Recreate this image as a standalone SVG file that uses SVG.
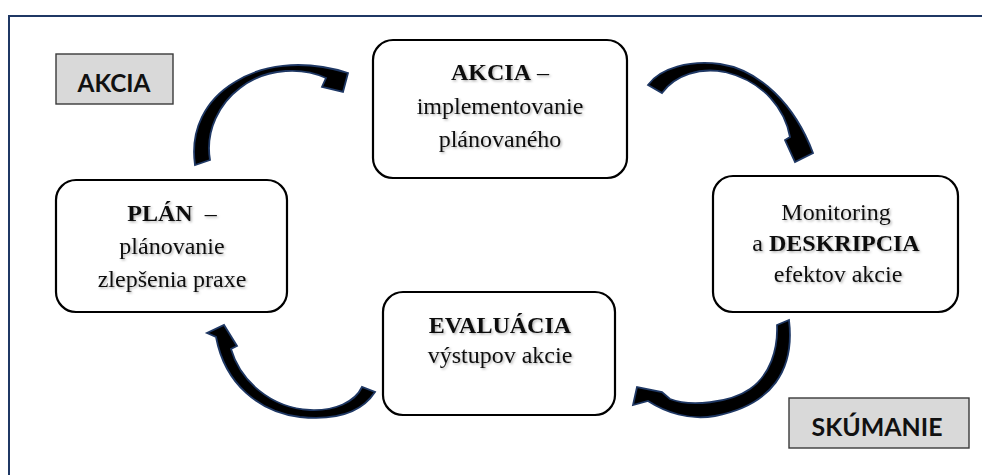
<svg xmlns="http://www.w3.org/2000/svg" width="982" height="475" viewBox="0 0 982 475">
  <defs>
    <filter id="txtShadow" x="-10%" y="-30%" width="120%" height="160%">
      <feDropShadow dx="1.4" dy="1.4" stdDeviation="0.9" flood-color="#000" flood-opacity="0.3"/>
    </filter>
  </defs>
  <style>
    .frame { fill: none; stroke: #1f3864; stroke-width: 2; }
    .node { fill: #fff; stroke: #000; stroke-width: 2.2; }
    .tag { fill: #d9d9d9; stroke: #3a3a3a; stroke-width: 1.4; }
    .tagtxt { font-family: Lato, "Open Sans", "Liberation Sans", sans-serif; font-weight: bold; font-size: 25px; fill: #111; text-anchor: middle; }
    .ntxt { font-family: "Liberation Serif", "Times New Roman", serif; font-size: 24px; fill: #111; text-anchor: middle; filter: url(#txtShadow); white-space: pre; }
    .b { font-weight: bold; }
    .arrow { fill: #000; stroke: #1f3864; stroke-width: 1.8; stroke-linejoin: miter; }
  </style>

  <rect width="982" height="475" fill="#fff"/>
  <!-- outer frame: only the left and top sides are in view -->
  <rect class="frame" x="9" y="16" width="1000" height="500"/>

  <!-- phase tags -->
  <g id="tag-akcia">
    <rect class="tag" x="56" y="54" width="117" height="50"/>
    <text class="tagtxt" x="114" y="92" textLength="73" lengthAdjust="spacingAndGlyphs">AKCIA</text>
  </g>
  <g id="tag-skumanie">
    <rect class="tag" x="789" y="398" width="180" height="50"/>
    <text class="tagtxt" x="877" y="436" textLength="131" lengthAdjust="spacingAndGlyphs">SKÚMANIE</text>
  </g>

  <!-- cycle steps -->
  <g id="node-akcia">
    <rect class="node" x="373" y="40" width="254" height="138" rx="20"/>
    <text class="ntxt" x="500" y="80"><tspan class="b">AKCIA</tspan> –</text>
    <text class="ntxt" x="500" y="114">implementovanie</text>
    <text class="ntxt" x="500" y="147">plánovaného</text>
  </g>
  <g id="node-monitoring">
    <rect class="node" x="713" y="176" width="245" height="136" rx="20"/>
    <text class="ntxt" x="836" y="220">Monitoring</text>
    <text class="ntxt" x="836" y="251">a <tspan class="b">DESKRIPCIA</tspan></text>
    <text class="ntxt" x="838" y="282">efektov akcie</text>
  </g>
  <g id="node-evaluacia">
    <rect class="node" x="383" y="292" width="232" height="123" rx="20"/>
    <text class="ntxt" x="500" y="333"><tspan class="b">EVALUÁCIA</tspan></text>
    <text class="ntxt" x="500" y="363">výstupov akcie</text>
  </g>
  <g id="node-plan">
    <rect class="node" x="56" y="180" width="231" height="132" rx="20"/>
    <text class="ntxt" x="172" y="221"><tspan class="b">PLÁN</tspan>  –</text>
    <text class="ntxt" x="172" y="254">plánovanie</text>
    <text class="ntxt" x="172" y="287">zlepšenia praxe</text>
  </g>

  <!-- curved block arrows between the steps -->
  <g id="connectors">
    <path class="arrow" d="M195,165 C190,130 205,100 235,82 C260,66 300,58 348,73 L343,92 L322,87 L326,78 C305,68 268,66 240,88 C220,103 205,130 210,160 Z"/>
    <path class="arrow" d="M648,85 C660,68 690,60 720,64 C760,70 795,105 813,153 L795,162 L785,140 L790,137 C785,110 765,82 725,72 C700,67 675,75 662,93 Z"/>
    <path class="arrow" d="M789,320 C795,370 772,405 715,416 C690,421 665,412 648,401 L633,405 L637,387 L662,392 L670,399 C690,407 730,403 750,389 C770,375 778,350 777,325 Z"/>
    <path class="arrow" d="M375,392 C360,415 330,420 300,417 C260,412 225,385 216,337 L207,333 L224,325 L237,346 L231,349 C240,380 270,408 310,410 C335,411 355,402 362,387 Z"/>
  </g>
</svg>
